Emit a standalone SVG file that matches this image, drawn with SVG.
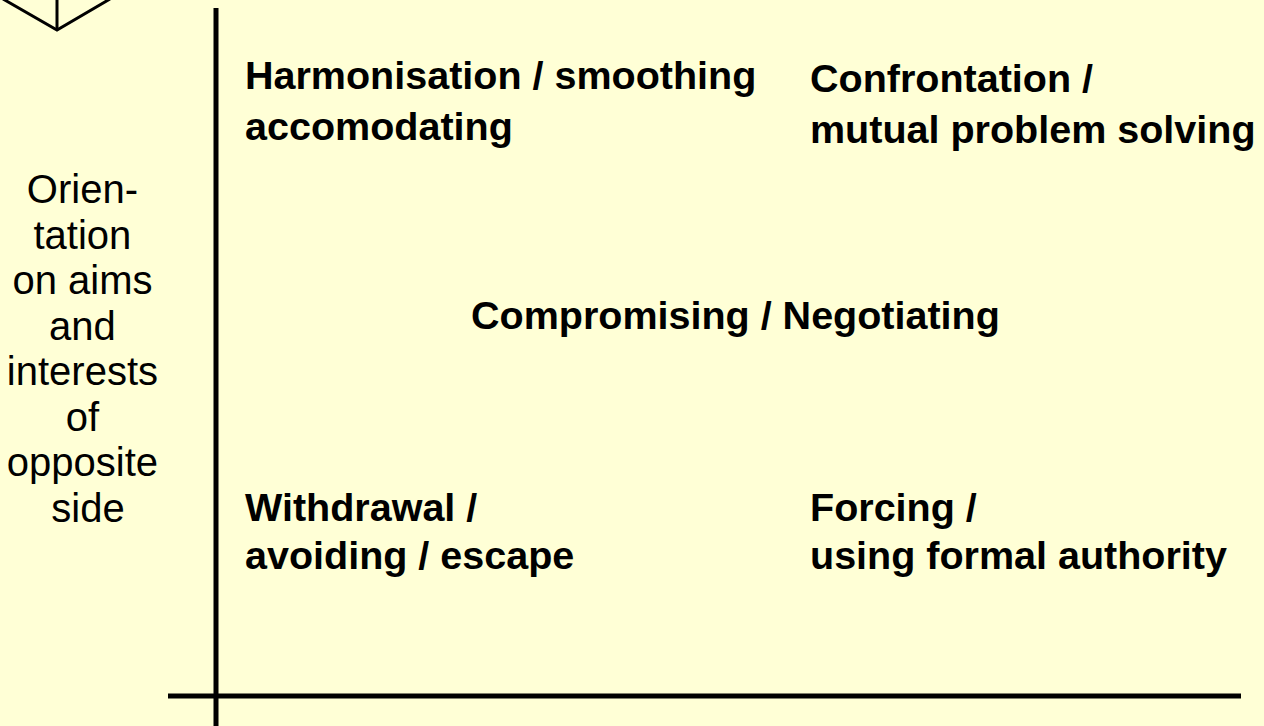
<svg xmlns="http://www.w3.org/2000/svg" width="1264" height="726" viewBox="0 0 1264 726">
  <style>
    .lbl { font-family: "Liberation Sans", Arial, sans-serif; font-size: 40px; fill: #000; }
    .b { font-weight: bold; font-size: 39.5px; }
    .axis { stroke: #000; stroke-width: 5; fill: none; }
    .thin { stroke: #000; stroke-width: 3; fill: none; }
  </style>
  <rect x="0" y="0" width="1264" height="726" fill="#FFFFD6"/>
  <g id="arrow-tip">
    <polyline class="thin" points="3,-1 57,30 110,-1"/>
    <line class="thin" x1="57" y1="0" x2="57" y2="30"/>
  </g>
  <g id="axes">
    <line class="axis" x1="216" y1="8" x2="216" y2="726"/>
    <line class="axis" x1="168" y1="696" x2="1241" y2="696"/>
  </g>
  <g id="y-axis-label">
    <text class="lbl" text-anchor="middle">
      <tspan x="88" y="203">Orien-</tspan>
      <tspan x="88" y="248.5">tation</tspan>
      <tspan x="88" y="294">on aims</tspan>
      <tspan x="88" y="339.5">and</tspan>
      <tspan x="88" y="385">interests</tspan>
      <tspan x="88" y="430.5">of</tspan>
      <tspan x="88" y="476">opposite</tspan>
      <tspan x="88" y="521.5">side</tspan>
    </text>
  </g>
  <g id="harmonisation">
    <text class="lbl b"><tspan x="245" y="89">Harmonisation / smoothing</tspan><tspan x="245" y="140">accomodating</tspan></text>
  </g>
  <g id="confrontation">
    <text class="lbl b"><tspan x="810" y="92">Confrontation /</tspan><tspan x="810" y="143">mutual problem solving</tspan></text>
  </g>
  <g id="compromising">
    <text class="lbl b" x="471" y="329">Compromising / Negotiating</text>
  </g>
  <g id="withdrawal">
    <text class="lbl b"><tspan x="245" y="521">Withdrawal /</tspan><tspan x="245" y="569">avoiding / escape</tspan></text>
  </g>
  <g id="forcing">
    <text class="lbl b"><tspan x="810" y="521">Forcing /</tspan><tspan x="810" y="569">using formal authority</tspan></text>
  </g>
</svg>
